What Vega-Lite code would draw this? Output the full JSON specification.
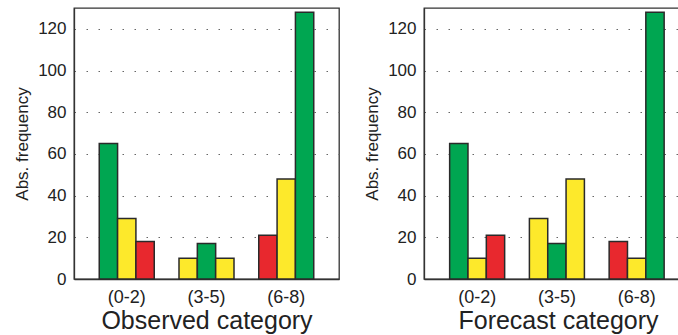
{
  "$schema": "https://vega.github.io/schema/vega-lite/v6.json",
  "padding": {"left": 12, "top": 7, "right": 0, "bottom": 0},
  "spacing": 22,
  "data": {
    "values": [
      {"panel": "Observed", "group": "(0-2)", "pos": 0, "value": 65, "cls": "diag"},
      {"panel": "Observed", "group": "(0-2)", "pos": 1, "value": 29, "cls": "off1"},
      {"panel": "Observed", "group": "(0-2)", "pos": 2, "value": 18, "cls": "off2"},
      {"panel": "Observed", "group": "(3-5)", "pos": 0, "value": 10, "cls": "off1"},
      {"panel": "Observed", "group": "(3-5)", "pos": 1, "value": 17, "cls": "diag"},
      {"panel": "Observed", "group": "(3-5)", "pos": 2, "value": 10, "cls": "off1"},
      {"panel": "Observed", "group": "(6-8)", "pos": 0, "value": 21, "cls": "off2"},
      {"panel": "Observed", "group": "(6-8)", "pos": 1, "value": 48, "cls": "off1"},
      {"panel": "Observed", "group": "(6-8)", "pos": 2, "value": 128, "cls": "diag"},
      {"panel": "Forecast", "group": "(0-2)", "pos": 0, "value": 65, "cls": "diag"},
      {"panel": "Forecast", "group": "(0-2)", "pos": 1, "value": 10, "cls": "off1"},
      {"panel": "Forecast", "group": "(0-2)", "pos": 2, "value": 21, "cls": "off2"},
      {"panel": "Forecast", "group": "(3-5)", "pos": 0, "value": 29, "cls": "off1"},
      {"panel": "Forecast", "group": "(3-5)", "pos": 1, "value": 17, "cls": "diag"},
      {"panel": "Forecast", "group": "(3-5)", "pos": 2, "value": 48, "cls": "off1"},
      {"panel": "Forecast", "group": "(6-8)", "pos": 0, "value": 18, "cls": "off2"},
      {"panel": "Forecast", "group": "(6-8)", "pos": 1, "value": 10, "cls": "off1"},
      {"panel": "Forecast", "group": "(6-8)", "pos": 2, "value": 128, "cls": "diag"}
    ]
  },
  "config": {
    "font": "Liberation Sans",
    "view": {"stroke": "#333333", "strokeWidth": 1.3},
    "axis": {
      "labelFont": "Liberation Sans",
      "titleFont": "Liberation Sans",
      "labelFontSize": 17,
      "labelColor": "#222222",
      "titleColor": "#222222",
      "titleFontWeight": "normal",
      "domainColor": "#333333",
      "domainWidth": 1.3,
      "ticks": false,
      "tickSize": 0,
      "labelPadding": 8
    },
    "axisX": {"labelAngle": 0, "labelPadding": 9, "labelFontSize": 18, "titleFontSize": 25, "titlePadding": 2, "grid": false},
    "axisY": {"titleFontSize": 17, "titlePadding": 6, "gridColor": "#666666", "gridDash": [1.5, 10.5], "gridWidth": 1}
  },
  "hconcat": [
    {
      "width": 265,
      "height": 271,
      "transform": [{"filter": "datum.panel === 'Observed'"}],
      "mark": {"type": "bar", "stroke": "#2a2a2a", "strokeWidth": 1.5},
      "encoding": {
        "x": {
          "field": "group", "type": "nominal", "title": "Observed category",
          "scale": {"paddingInner": 0, "paddingOuter": 0.1614, "align": 0.5}
        },
        "xOffset": {"field": "pos", "type": "nominal", "scale": {"paddingInner": 0, "paddingOuter": 0.675}},
        "y": {
          "field": "value", "type": "quantitative", "title": "Abs. frequency",
          "scale": {"domain": [0, 130], "nice": false},
          "axis": {"values": [0, 20, 40, 60, 80, 100, 120]}
        },
        "color": {
          "field": "cls", "type": "nominal", "legend": null,
          "scale": {"domain": ["diag", "off1", "off2"], "range": ["#00A651", "#FDE92B", "#E8282E"]}
        }
      }
    },
    {
      "width": 254,
      "height": 271,
      "view": {"stroke": "#333333", "strokeWidth": 1.3, "strokeDash": [254, 271, 1000]},
      "transform": [{"filter": "datum.panel === 'Forecast'"}],
      "mark": {"type": "bar", "stroke": "#2a2a2a", "strokeWidth": 1.5},
      "encoding": {
        "x": {
          "field": "group", "type": "nominal", "title": "Forecast category",
          "scale": {"paddingInner": 0, "paddingOuter": 0.0925, "align": 0.9},
          "axis": {"titleX": 134}
        },
        "xOffset": {"field": "pos", "type": "nominal", "scale": {"paddingInner": 0, "paddingOuter": 0.675}},
        "y": {
          "field": "value", "type": "quantitative", "title": "Abs. frequency",
          "scale": {"domain": [0, 130], "nice": false},
          "axis": {"values": [0, 20, 40, 60, 80, 100, 120]}
        },
        "color": {
          "field": "cls", "type": "nominal", "legend": null,
          "scale": {"domain": ["diag", "off1", "off2"], "range": ["#00A651", "#FDE92B", "#E8282E"]}
        }
      }
    }
  ]
}
